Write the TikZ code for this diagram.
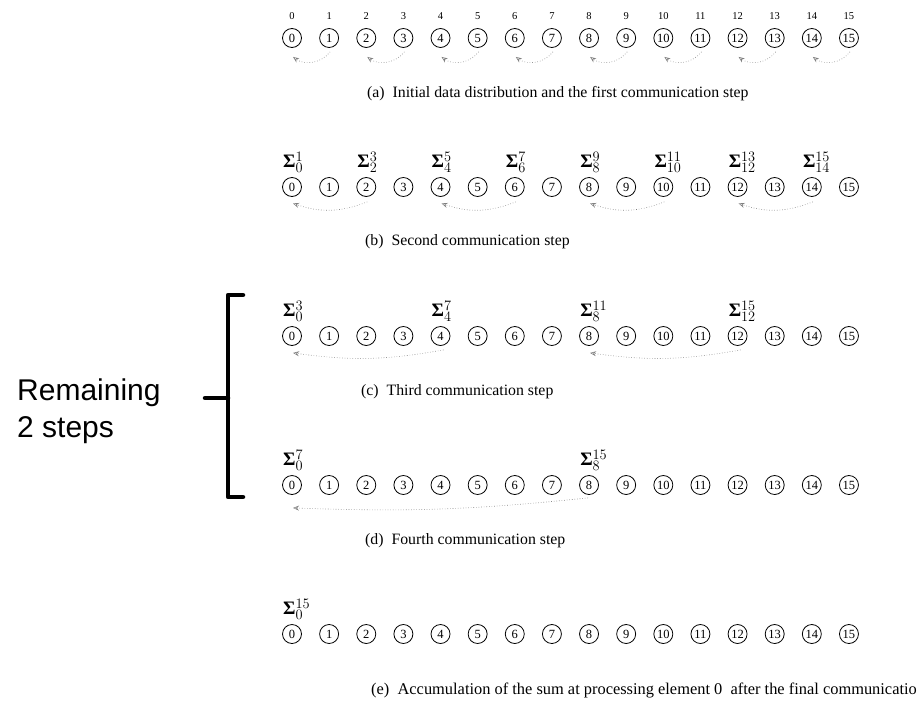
\documentclass[tikz,border=0pt]{standalone}
\usepackage{fontspec}
\setmainfont{Liberation Serif}
\newfontfamily\arialf{Liberation Sans}
\usetikzlibrary{arrows.meta,calc}
\newcommand{\sigl}[2]{\hbox{\bfseries Σ}$^{#2}_{#1}$}
\begin{document}
\begin{tikzpicture}[x=1pt,y=-1pt,
 pe/.style={circle,draw,line width=0.8pt,minimum size=19pt,inner sep=0pt,font=\fontsize{12.5}{13}\selectfont},
 idx/.style={inner sep=0pt,font=\fontsize{10.5}{12}\selectfont},
 sig/.style={anchor=west,inner sep=0pt,font=\fontsize{19}{20}\selectfont},
 captxt/.style={anchor=west,inner sep=0pt,font=\fontsize{15.8}{17}\selectfont},
 remtxt/.style={anchor=base west,inner sep=0pt,font=\arialf\fontsize{30}{36}\selectfont},
 comm/.style={draw=gray,dotted,line width=0.6pt,-{Stealth[open,length=6pt,width=5pt]}},
 brk/.style={line width=4.5pt,line cap=round,line join=round},
]
\clip (0,0) rectangle (917,712);
\fill[white] (0,0) rectangle (917,712);
% processing elements
\foreach \r/\y in {a/38,b/187,c/336,d/485,e/634}{
  \foreach \i in {0,...,15}{
    \node[pe] (\r\i) at ({292+37.13*\i},\y) {\i};
  }
}
% top indices
\foreach \i in {0,...,15}{
  \node[idx] (n\i) at ({292+37.13*\i},16) {\i};
}
% row a arrows
\foreach \s/\t in {1/0,3/2,5/4,7/6,9/8,11/10,13/12,15/14}{
  \draw[comm] ([shift={(1,4)}]a\s.south) to[bend left=44] ([shift={(1,9)}]a\t.south);
}
% row b
\foreach \s/\t in {2/0,6/4,10/8,14/12}{
  \draw[comm] ([shift={(1,5)}]b\s.south) to[bend left=20] ([shift={(1,6.5)}]b\t.south);
}
\foreach \i/\sup in {0/1,2/3,4/5,6/7,8/9,10/11,12/13,14/15}{
  \node[sig] (sb\i) at ($(b\i)+(-9,-25)$) {\sigl{\i}{\sup}};
}
% row c
\foreach \s/\t in {4/0,12/8}{
  \draw[comm] ([shift={(3,4)}]c\s.south) to[bend left=9] ([shift={(1,7)}]c\t.south);
}
\foreach \i/\sup in {0/3,4/7,8/11,12/15}{
  \node[sig] (sc\i) at ($(c\i)+(-9,-25)$) {\sigl{\i}{\sup}};
}
% row d
\draw[comm] ([shift={(-1,3)}]d8.south) to[bend left=4] ([shift={(1,13)}]d0.south);
\node[sig] (sd0) at ($(d0)+(-9,-25)$) {\sigl{0}{7}};
\node[sig] (sd8) at ($(d8)+(-9,-25)$) {\sigl{8}{15}};
% row e
\node[sig] (se0) at ($(e0)+(-9,-25)$) {\sigl{0}{15}};
% captions
\node[captxt] (capa) at (367,94) {(a)\enspace Initial data distribution and the first communication step};
\node[captxt] (capb) at (365,242) {(b)\enspace Second communication step};
\node[captxt] (capc) at (361,392) {(c)\enspace Third communication step};
\node[captxt] (capd) at (365,541) {(d)\enspace Fourth communication step};
\node[captxt,font=\fontsize{16.4}{18}\selectfont] (cape) at (371,690) {(e)\enspace Accumulation of the sum at processing element 0\enspace after the final communication};
% bracket
\coordinate (bt) at (243,295);
\coordinate (bb) at (243,497);
\coordinate (bm) at (205,398);
\draw[brk] (bt) -- (228,295) -- (228,497) -- (bb);
\draw[brk] (bm) -- (228,398);
\node[remtxt] (rem1) at (17,400) {Remaining};
\node[remtxt] (rem2) at (17,437) {2 steps};
\end{tikzpicture}
\end{document}
